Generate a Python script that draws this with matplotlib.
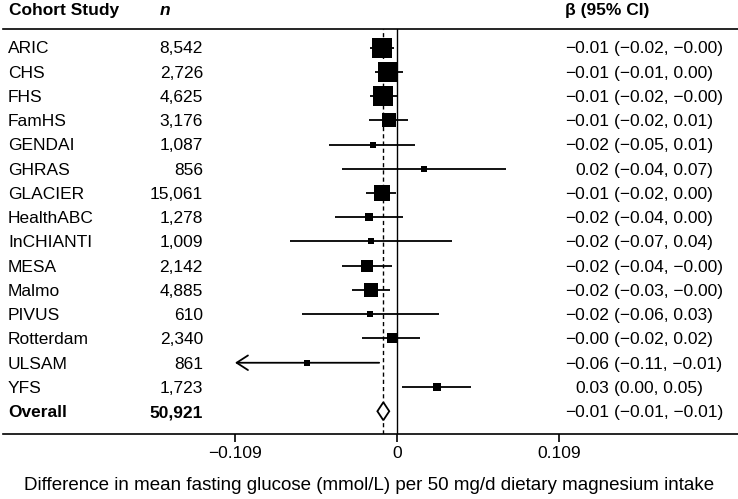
import numpy as np
import matplotlib
matplotlib.use("Agg")
import matplotlib.pyplot as plt
from matplotlib.transforms import blended_transform_factory

plt.rcParams['font.family'] = ['Liberation Sans', 'DejaVu Sans']
plt.rcParams['font.size'] = 12.5

# study data
studies = ['ARIC', 'CHS', 'FHS', 'FamHS', 'GENDAI', 'GHRAS', 'GLACIER', 'HealthABC',
           'InCHIANTI', 'MESA', 'Malmo', 'PIVUS', 'Rotterdam', 'ULSAM', 'YFS']
n_text = ['8,542', '2,726', '4,625', '3,176', '1,087', '856', '15,061', '1,278',
          '1,009', '2,142', '4,885', '610', '2,340', '861', '1,723']
est = [-0.0098, -0.0058, -0.0092, -0.0056, -0.0164, 0.0184, -0.0103, -0.0186,
       -0.0175, -0.0201, -0.0174, -0.0180, -0.0036, -0.0604, 0.0267]
lo = [-0.0182, -0.0145, -0.0180, -0.0188, -0.0458, -0.0370, -0.0209, -0.0415,
      -0.0720, -0.0370, -0.0300, -0.0640, -0.0238, -0.1100, 0.0036]
hi = [-0.0020, 0.0038, -0.0002, 0.0074, 0.0123, 0.0733, -0.0007, 0.0042,
      0.0370, -0.0034, -0.0047, 0.0280, 0.0155, -0.0120, 0.0496]
weight = [17.5, 15.8, 15.8, 7.7, 2.1, 1.1, 12.2, 3.3, 1.1, 5.3, 8.9, 1.1, 4.4, 1.1, 2.8]
est_text = ['−0.01', '−0.01', '−0.01', '−0.01', '−0.02', '0.02', '−0.01', '−0.02',
            '−0.02', '−0.02', '−0.02', '−0.02', '−0.00', '−0.06', '0.03']
ci_text = ['(−0.02, −0.00)', '(−0.01, 0.00)', '(−0.02, −0.00)', '(−0.02, 0.01)',
           '(−0.05, 0.01)', '(−0.04, 0.07)', '(−0.02, 0.00)', '(−0.04, 0.00)',
           '(−0.07, 0.04)', '(−0.04, −0.00)', '(−0.03, −0.00)', '(−0.06, 0.03)',
           '(−0.02, 0.02)', '(−0.11, −0.01)', '(0.00, 0.05)']

overall_n = '50,921'
overall_est, overall_lo, overall_hi = -0.0092, -0.0132, -0.0052
overall_est_text, overall_ci_text = '−0.01', '(−0.01, −0.01)'

xticks = [-0.109, 0, 0.109]
xtick_labels = ['−0.109', '0', '0.109']
xlabel = 'Difference in mean fasting glucose (mmol/L) per 50 mg/d dietary magnesium intake'

W, H = 738, 499
fig = plt.figure(figsize=(W / 100, H / 100), dpi=100)
top_px, bot_px = 29, 434
ax = fig.add_axes([0, (H - bot_px) / H, 1, (bot_px - top_px) / H])

px = 0.109 / 162          # data units per pixel
zero_px = 397
x0 = -zero_px * px
x1 = (W - zero_px) * px
ax.set_xlim(x0, x1)
row0, step = 47.5, 24.25
ax.set_ylim((bot_px - row0) / step, (top_px - row0) / step)

for s in ['left', 'right']:
    ax.spines[s].set_visible(False)
for s in ['top', 'bottom']:
    ax.spines[s].set_linewidth(1.2)
    ax.spines[s].set_bounds(x0 + 3 * px, x1)
ax.set_yticks([])
ax.set_xticks(xticks)
ax.set_xticklabels(xtick_labels)
ax.tick_params(axis='x', direction='out', length=5.5, width=1.2, pad=3, labelsize=12.5)

ax.axvline(0, color='black', lw=1.0, zorder=1)
ax.axvline(overall_est, color='black', lw=1.0, ls=(0, (3, 2.2)), zorder=1)

rows = np.arange(len(studies))
xmin_clip = xticks[0]
for i in rows:
    l = max(lo[i], xmin_clip)
    if lo[i] < xmin_clip:
        ax.annotate('', xy=(l, i), xytext=(hi[i], i),
                    arrowprops=dict(arrowstyle='->,head_length=0.65,head_width=0.42',
                                    color='black', lw=1.3, shrinkA=0, shrinkB=0))
    else:
        ax.plot([l, hi[i]], [i, i], color='black', lw=1.3, solid_capstyle='butt', zorder=2)
    side = 20 * np.sqrt(weight[i] / max(weight))
    ax.plot(est[i], i, marker='s', color='black', ms=side * 0.72, mew=0, zorder=3)

oy = len(studies)
dh = 0.37
ax.fill([overall_lo, overall_est, overall_hi, overall_est],
        [oy, oy - dh, oy, oy + dh], facecolor='white', edgecolor='black', lw=1.3, zorder=4)

# text columns (x in pixels, y in rows)
tr = blended_transform_factory(fig.transFigure, ax.transData)
bl = 5.8 / step
hy = (14.7 - row0) / step
ax.text(9 / W, hy, 'Cohort Study', transform=tr, fontweight='bold', va='baseline', ha='left')
ax.text(160 / W, hy, 'n', transform=tr, fontweight='bold', style='italic', va='baseline', ha='left')
ax.text(565 / W, hy, 'β (95% CI)', transform=tr, fontweight='bold', va='baseline', ha='left')

names = studies + ['Overall']
ns = n_text + [overall_n]
ests = est_text + [overall_est_text]
cis = ci_text + [overall_ci_text]
for i in range(len(names)):
    fw = 'bold' if i == len(studies) else 'normal'
    ax.text(8 / W, i + bl, names[i], transform=tr, fontweight=fw, va='baseline', ha='left')
    ax.text(203 / W, i + bl, ns[i], transform=tr, fontweight=fw, va='baseline', ha='right')
    ax.text(609 / W, i + bl, ests[i], transform=tr, va='baseline', ha='right')
    ax.text(614 / W, i + bl, cis[i], transform=tr, va='baseline', ha='left')

fig.text(0.5, (H - 490) / H, xlabel, ha='center', va='baseline', fontsize=13.5)

fig.savefig('out.png', dpi=100)
